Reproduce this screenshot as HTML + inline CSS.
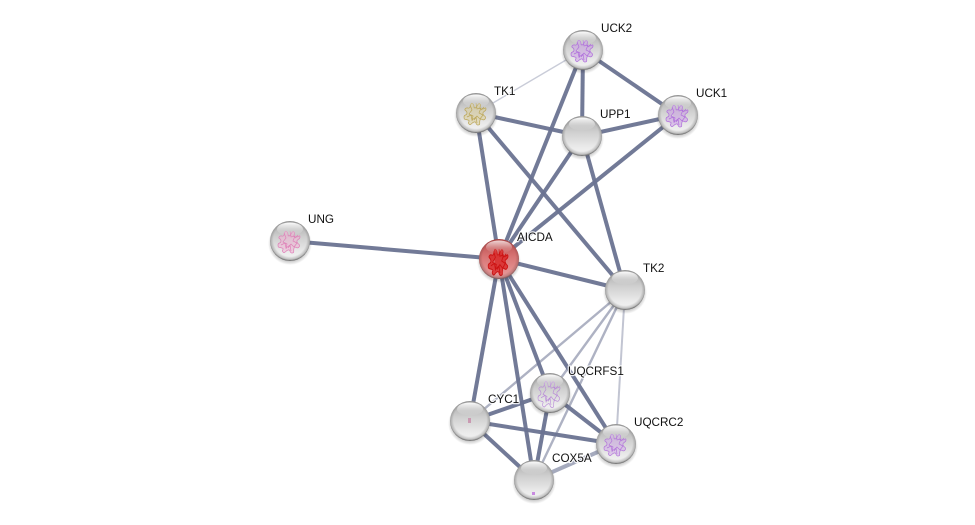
<!DOCTYPE html>
<html>
<head>
<meta charset="utf-8">
<style>
html,body{margin:0;padding:0;background:#fff;width:975px;height:525px;overflow:hidden}
svg{display:block}
text{font-family:"Liberation Sans",sans-serif;font-size:11.7px;fill:#111;paint-order:stroke;stroke:#fff;stroke-width:2.5px;stroke-opacity:.85;stroke-linejoin:round}
</style>
</head>
<body>
<svg width="975" height="525" viewBox="0 0 975 525" xmlns="http://www.w3.org/2000/svg">
<defs>
<linearGradient id="g" x1="0" y1="0" x2="0" y2="1">
<stop offset="0" stop-color="#a8a8a8"/>
<stop offset=".4" stop-color="#cfcfcf"/>
<stop offset=".8" stop-color="#ececec"/>
<stop offset="1" stop-color="#f2f2f2"/>
</linearGradient>
<linearGradient id="r" x1="0" y1="0" x2="0" y2="1">
<stop offset="0" stop-color="#b84a4a"/>
<stop offset=".45" stop-color="#d87575"/>
<stop offset="1" stop-color="#e9a0a0"/>
</linearGradient>
<radialGradient id="rim" cx="50%" cy="47%" r="53%">
<stop offset="0" stop-color="#000" stop-opacity="0"/>
<stop offset=".78" stop-color="#000" stop-opacity="0"/>
<stop offset=".92" stop-color="#000" stop-opacity=".2"/>
<stop offset="1" stop-color="#000" stop-opacity=".62"/>
</radialGradient>
<linearGradient id="h" x1="0" y1="0" x2="0" y2="1">
<stop offset="0" stop-color="#fff" stop-opacity=".95"/>
<stop offset=".6" stop-color="#fff" stop-opacity=".25"/>
<stop offset="1" stop-color="#fff" stop-opacity="0"/>
</linearGradient>
<radialGradient id="sh" cx="50%" cy="50%" r="50%">
<stop offset=".75" stop-color="#000" stop-opacity=".28"/>
<stop offset="1" stop-color="#000" stop-opacity="0"/>
</radialGradient>
<g id="gloss">
<circle r="20" fill="url(#rim)"/>
<ellipse cx="0" cy="-12" rx="13" ry="6.5" fill="url(#h)"/>
</g>
<g id="back"><ellipse cx="0" cy="2.5" rx="22" ry="21.5" fill="url(#sh)"/></g>
<path id="sq" d="M-11,-4c2,-3 4,1 5,-2s1,-5 3,-3s0,4 2,4s3,-6 5,-4s-2,4 1,5s5,-3 5,0s-4,2 -3,5s4,2 2,5s-4,-2 -5,1s1,5 -2,5s-1,-4 -4,-3s-3,4 -5,2s2,-3 -1,-4s-4,0 -4,-3s3,-1 3,-4s-3,-2 -2,-4zM-6,-8l2,5l-3,4l4,2l-1,5M0,-10l1,6l4,-1l-2,5l4,2l-3,4l-3,-3l-3,4M8,-6l-3,3M-9,4l4,-2l1,5l4,-3l1,6"/>
</defs>

<g fill="none" stroke="#c9ccd8" stroke-width="1.4">
<line x1="476" y1="113" x2="583" y2="50"/>
</g>
<g fill="none" stroke="#aeb2c3" stroke-width="2.4">
<line x1="625" y1="290" x2="470" y2="421"/>
<line x1="625" y1="290" x2="550" y2="393"/>
<line x1="625" y1="290" x2="534" y2="480"/>
</g>
<g fill="none" stroke="#c2c5d2" stroke-width="2">
<line x1="625" y1="290" x2="616" y2="444"/>
</g>
<g fill="none" stroke="#a5aabd" stroke-width="4">
<line x1="534" y1="480" x2="616" y2="444"/>
</g>
<g fill="none" stroke="#6a7391" stroke-opacity=".95" stroke-width="4">
<line x1="583" y1="50" x2="678" y2="115"/>
<line x1="583" y1="50" x2="582" y2="136"/>
<line x1="583" y1="50" x2="499" y2="259"/>
<line x1="582" y1="136" x2="678" y2="115"/>
<line x1="476" y1="113" x2="582" y2="136"/>
<line x1="476" y1="113" x2="499" y2="259"/>
<line x1="476" y1="113" x2="625" y2="290"/>
<line x1="582" y1="136" x2="499" y2="259"/>
<line x1="582" y1="136" x2="625" y2="290"/>
<line x1="678" y1="115" x2="499" y2="259"/>
<line x1="290" y1="241" x2="499" y2="259"/>
<line x1="499" y1="259" x2="625" y2="290"/>
<line x1="499" y1="259" x2="470" y2="421"/>
<line x1="499" y1="259" x2="534" y2="480"/>
<line x1="499" y1="259" x2="550" y2="393"/>
<line x1="499" y1="259" x2="616" y2="444"/>
<line x1="470" y1="421" x2="550" y2="393"/>
<line x1="470" y1="421" x2="616" y2="444"/>
<line x1="470" y1="421" x2="534" y2="480"/>
<line x1="550" y1="393" x2="534" y2="480"/>
<line x1="550" y1="393" x2="616" y2="444"/>
</g>

<!-- nodes -->
<g transform="translate(583,50)"><use href="#back"/><circle r="20" fill="url(#g)"/><use href="#sq" fill="#c99be6" fill-opacity=".5" stroke="#b06fdc" stroke-width=".7"/><use href="#gloss"/></g>
<g transform="translate(476,113)"><use href="#back"/><circle r="20" fill="url(#g)"/><use href="#sq" fill="#d9cb94" fill-opacity=".5" stroke="#bba658" stroke-width=".7"/><use href="#gloss"/></g>
<g transform="translate(582,136)"><use href="#back"/><circle r="20" fill="url(#g)"/><use href="#gloss"/></g>
<g transform="translate(678,115)"><use href="#back"/><circle r="20" fill="url(#g)"/><use href="#sq" fill="#c99be6" fill-opacity=".5" stroke="#b06fdc" stroke-width=".7"/><use href="#gloss"/></g>
<g transform="translate(290,241)"><use href="#back"/><circle r="20" fill="url(#g)"/><use href="#sq" fill="#efb0d2" fill-opacity=".5" stroke="#df80b8" stroke-width=".7"/><use href="#gloss"/></g>
<g transform="translate(499,259)"><use href="#back"/><circle r="20" fill="url(#r)"/><use href="#sq" fill="#d91a1a" fill-opacity=".7" stroke="#cc1212" stroke-width=".9" transform="translate(0,2) scale(.9,1.2)"/><use href="#gloss" opacity=".8"/></g>
<g transform="translate(625,290)"><use href="#back"/><circle r="20" fill="url(#g)"/><use href="#gloss"/></g>
<g transform="translate(550,393)"><use href="#back"/><circle r="20" fill="url(#g)"/><use href="#sq" fill="none" stroke="#b888d8" stroke-width=".6" transform="scale(1,1.2)"/><use href="#gloss"/></g>
<g transform="translate(470,421)"><use href="#back"/><circle r="20" fill="url(#g)"/><rect x="-2" y="-3" width="3" height="5" fill="#c99ab2"/><use href="#gloss"/></g>
<g transform="translate(616,444)"><use href="#back"/><circle r="20" fill="url(#g)"/><use href="#sq" fill="#cfa8ea" fill-opacity=".5" stroke="#b478da" stroke-width=".7"/><use href="#gloss"/></g>
<g transform="translate(534,480)"><use href="#back"/><circle r="20" fill="url(#g)"/><rect x="-2" y="12" width="3" height="3" fill="#c88ae0"/><use href="#gloss"/></g>

<!-- labels -->
<text x="601" y="32">UCK2</text>
<text x="494" y="95">TK1</text>
<text x="600" y="118">UPP1</text>
<text x="696" y="97">UCK1</text>
<text x="308" y="223">UNG</text>
<text x="517" y="241">AICDA</text>
<text x="643" y="272">TK2</text>
<text x="568" y="375">UQCRFS1</text>
<text x="488" y="403">CYC1</text>
<text x="634" y="426">UQCRC2</text>
<text x="552" y="462">COX5A</text>
</svg>
</body>
</html>
